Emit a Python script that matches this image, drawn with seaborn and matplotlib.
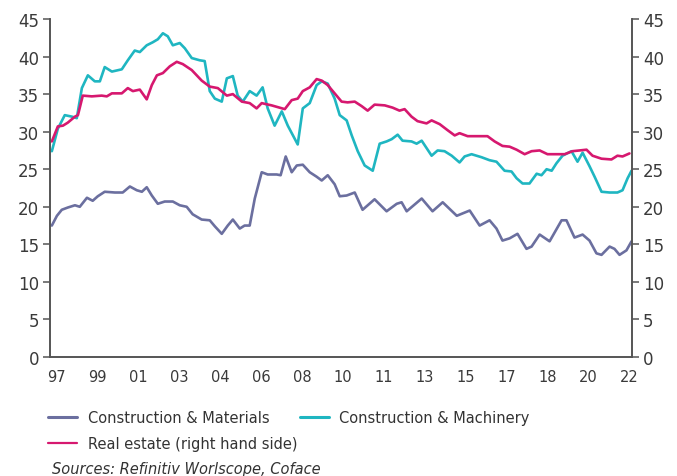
import numpy as np
import pandas as pd
import seaborn as sns
import matplotlib.pyplot as plt
from matplotlib.lines import Line2D

# Values; x is the fractional year
mat_year = [1997.00, 1997.22, 1997.43, 1997.69, 1998.00, 1998.21, 1998.52, 1998.77, 1998.99,
            1999.29, 1999.73, 2000.07, 2000.38, 2000.68, 2000.90, 2001.11, 2001.33, 2001.59,
            2001.89, 2002.24, 2002.54, 2002.84, 2003.10, 2003.49, 2003.84, 2004.06, 2004.36,
            2004.62, 2004.84, 2005.14, 2005.35, 2005.57, 2005.79, 2006.09, 2006.35, 2006.74,
            2006.91, 2007.13, 2007.39, 2007.61, 2007.87, 2008.17, 2008.47, 2008.69, 2008.95,
            2009.25, 2009.47, 2009.77, 2010.12, 2010.46, 2010.98, 2011.50, 2011.94, 2012.15,
            2012.37, 2013.02, 2013.49, 2013.93, 2014.54, 2015.10, 2015.53, 2015.96, 2016.26,
            2016.52, 2016.83, 2017.17, 2017.56, 2017.78, 2018.13, 2018.56, 2019.08, 2019.29,
            2019.64, 2019.99, 2020.29, 2020.59, 2020.81, 2021.16, 2021.37, 2021.59, 2021.89,
            2022.11]
mat_val = [17.5, 18.8, 19.6, 19.9, 20.2, 20.0, 21.2, 20.8, 21.4,
           22.0, 21.9, 21.9, 22.7, 22.2, 22.0, 22.6, 21.5, 20.4,
           20.7, 20.7, 20.2, 20.0, 19.0, 18.3, 18.2, 17.4, 16.4,
           17.5, 18.3, 17.1, 17.5, 17.5, 21.1, 24.6, 24.3, 24.3,
           24.2, 26.7, 24.6, 25.5, 25.6, 24.6, 24.0, 23.5, 24.2,
           23.0, 21.4, 21.5, 21.9, 19.6, 21.0, 19.4, 20.4, 20.6,
           19.4, 21.1, 19.4, 20.6, 18.8, 19.5, 17.5, 18.2, 17.1,
           15.5, 15.8, 16.4, 14.4, 14.7, 16.3, 15.4, 18.2, 18.2,
           15.9, 16.3, 15.5, 13.8, 13.6, 14.7, 14.4, 13.6, 14.2,
           15.4]

mach_year = [1997.00, 1997.26, 1997.56, 1997.87, 1998.08, 1998.30, 1998.56, 1998.86, 1999.08,
             1999.29, 1999.60, 2000.03, 2000.29, 2000.59, 2000.81, 2001.11, 2001.37, 2001.59,
             2001.81, 2002.02, 2002.24, 2002.54, 2002.76, 2003.06, 2003.41, 2003.62, 2003.84,
             2004.06, 2004.36, 2004.58, 2004.84, 2005.05, 2005.27, 2005.57, 2005.87, 2006.13,
             2006.35, 2006.65, 2006.96, 2007.22, 2007.65, 2007.87, 2008.17, 2008.47, 2008.69,
             2008.95, 2009.25, 2009.47, 2009.77, 2009.99, 2010.25, 2010.55, 2010.90, 2011.20,
             2011.50, 2011.72, 2011.98, 2012.19, 2012.58, 2012.80, 2013.02, 2013.45, 2013.71,
             2014.01, 2014.32, 2014.66, 2014.88, 2015.18, 2015.61, 2015.96, 2016.26, 2016.61,
             2016.91, 2017.13, 2017.39, 2017.69, 2018.00, 2018.21, 2018.43, 2018.65, 2018.86,
             2019.12, 2019.51, 2019.77, 2019.99, 2020.29, 2020.51, 2020.81, 2021.16, 2021.50,
             2021.72, 2021.94, 2022.11]
mach_val = [27.4, 30.4, 32.2, 32.0, 31.8, 35.8, 37.5, 36.7, 36.7,
            38.6, 38.0, 38.3, 39.5, 40.8, 40.6, 41.5, 41.9, 42.3,
            43.1, 42.7, 41.5, 41.8, 41.1, 39.8, 39.5, 39.4, 35.4,
            34.4, 34.0, 37.1, 37.4, 34.8, 34.0, 35.4, 34.8, 35.9,
            33.1, 30.8, 32.7, 30.8, 28.3, 33.1, 33.8, 36.2, 36.7,
            36.4, 34.4, 32.2, 31.5, 29.5, 27.4, 25.5, 24.8, 28.4,
            28.7, 29.0, 29.6, 28.8, 28.7, 28.4, 28.8, 26.8, 27.5,
            27.4, 26.8, 25.9, 26.7, 27.0, 26.6, 26.2, 26.0, 24.8,
            24.7, 23.8, 23.1, 23.1, 24.4, 24.2, 25.0, 24.8, 25.8,
            26.8, 27.4, 26.0, 27.2, 25.4, 24.0, 22.0, 21.9, 21.9,
            22.2, 23.8, 24.8]

re_year = [1997.00, 1997.26, 1997.48, 1997.69, 1998.00, 1998.13, 1998.34, 1998.73, 1999.16,
           1999.38, 1999.60, 2000.03, 2000.29, 2000.51, 2000.81, 2001.11, 2001.33, 2001.55,
           2001.81, 2002.11, 2002.41, 2002.67, 2003.06, 2003.49, 2003.84, 2004.19, 2004.58,
           2004.84, 2005.23, 2005.57, 2005.87, 2006.09, 2006.52, 2007.09, 2007.39, 2007.65,
           2007.87, 2008.17, 2008.47, 2008.69, 2008.95, 2009.25, 2009.55, 2009.81, 2010.12,
           2010.42, 2010.68, 2010.98, 2011.42, 2011.76, 2012.06, 2012.28, 2012.58, 2012.84,
           2013.23, 2013.45, 2013.80, 2014.14, 2014.45, 2014.66, 2015.01, 2015.44, 2015.87,
           2016.18, 2016.52, 2016.83, 2017.13, 2017.48, 2017.78, 2018.13, 2018.47, 2018.86,
           2019.21, 2019.55, 2019.86, 2020.16, 2020.42, 2020.81, 2021.24, 2021.50, 2021.72,
           2022.02]
re_val = [28.7, 30.7, 30.8, 31.2, 32.0, 32.2, 34.8, 34.7, 34.8,
          34.7, 35.1, 35.1, 35.8, 35.4, 35.6, 34.3, 36.2, 37.5,
          37.8, 38.7, 39.3, 39.0, 38.2, 36.8, 36.0, 35.8, 34.8,
          35.0, 34.0, 33.8, 33.1, 33.8, 33.5, 33.0, 34.2, 34.4,
          35.4, 35.9, 37.0, 36.8, 36.2, 35.1, 34.0, 33.9, 34.0,
          33.4, 32.8, 33.6, 33.5, 33.2, 32.8, 33.0, 32.0, 31.4,
          31.1, 31.5, 31.0, 30.2, 29.5, 29.8, 29.4, 29.4, 29.4,
          28.7, 28.1, 28.0, 27.6, 27.0, 27.4, 27.5, 27.0, 27.0,
          27.0, 27.4, 27.5, 27.6, 26.8, 26.4, 26.3, 26.8, 26.7,
          27.1]

tick_labels = ['97', '99', '01', '03', '04', '06', '08', '10', '11',
               '13', '15', '17', '18', '20', '22']

c_mat = '#6b6f9f'
c_mach = '#1fb6c1'
c_re = '#d6186f'

sns.set_style('white')
plt.rcParams['font.family'] = ['DejaVu Sans']

fig = plt.figure(figsize=(6.77, 4.77), dpi=100)
ax = fig.add_axes([50 / 677, 1 - 358 / 477, 582 / 677, 338 / 477])
ax2 = ax.twinx()

sns.lineplot(x=mat_year, y=mat_val, ax=ax, color=c_mat, lw=1.9)
sns.lineplot(x=mach_year, y=mach_val, ax=ax, color=c_mach, lw=1.9)
sns.lineplot(x=re_year, y=re_val, ax=ax2, color=c_re, lw=1.9)

for a in (ax, ax2):
    a.set_ylim(0, 45)
    a.set_yticks(range(0, 46, 5))
    a.set_xlim(1996.92, 2022.13)
    a.set_ylabel('')
    a.spines['top'].set_visible(False)
    for s in ('left', 'right', 'bottom'):
        a.spines[s].set_color('#555555')
        a.spines[s].set_linewidth(1.2)

ax.tick_params(axis='y', left=True, length=5, width=1.1, color='#555555',
               labelsize=12, labelcolor='#3a3a3a', pad=3)
ax2.tick_params(axis='y', right=True, length=5, width=1.1, color='#555555',
                labelsize=12, labelcolor='#3a3a3a', pad=3)
ax.set_xticks(np.linspace(1997.2, 2022.0, 15))
ax.set_xticklabels(tick_labels)
ax.tick_params(axis='x', length=0, labelsize=10.5, labelcolor='#3a3a3a', pad=9)
ax.grid(False)
ax2.grid(False)

# column-major fill: first column holds Materials + Real estate
handles = [Line2D([], [], color=c_mat, lw=2.2),
           Line2D([], [], color=c_re, lw=1.6),
           Line2D([], [], color=c_mach, lw=2.2)]
labels = ['Construction & Materials', 'Real estate (right hand side)',
          'Construction & Machinery']
fig.legend(handles, labels, loc='upper left', bbox_to_anchor=(35 / 677, 1 - 398 / 477),
           ncol=2, frameon=False, fontsize=10.5, handlelength=2.0, handletextpad=0.7,
           columnspacing=0.2, labelspacing=0.75, labelcolor='#333333')

fig.text(52 / 677, 1 - 470 / 477, 'Sources: Refinitiv Worlscope, Coface',
         style='italic', fontsize=10.5, color='#333333', va='center')

fig.savefig('out.png', dpi=100)
